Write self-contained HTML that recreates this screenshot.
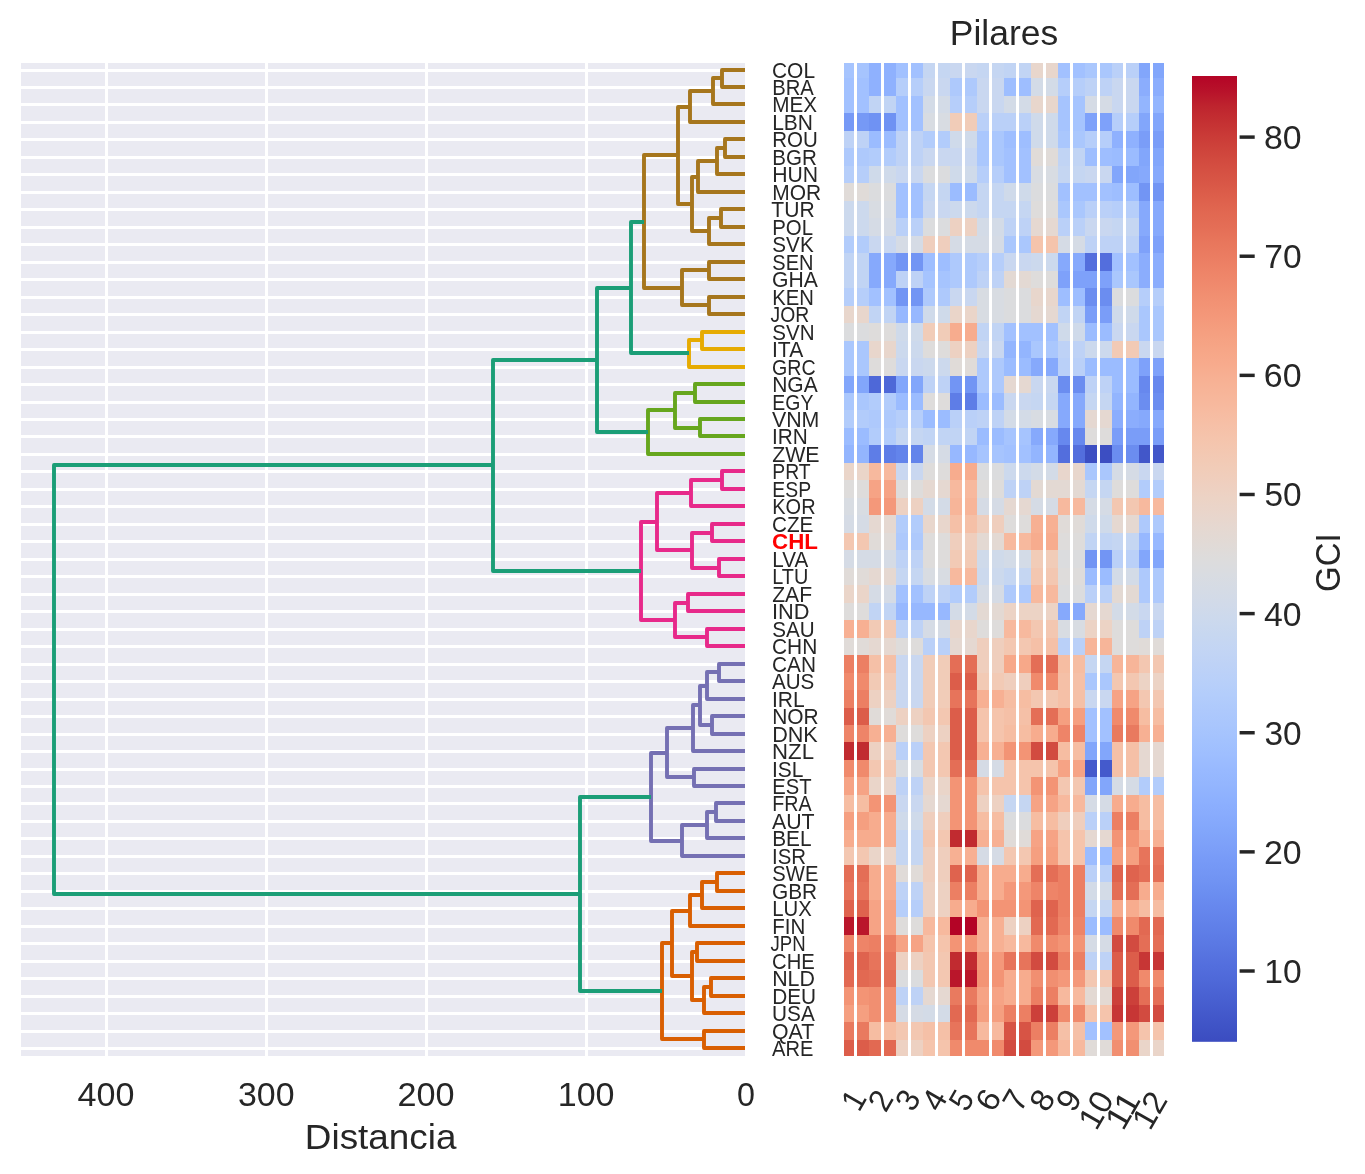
<!DOCTYPE html><html><head><meta charset="utf-8"><title>Dendrograma GCI</title>
<style>html,body{margin:0;padding:0;background:#fff}svg{display:block;will-change:transform;opacity:0.9999}text{font-family:"Liberation Sans",sans-serif;fill:#262626}</style></head><body>
<svg width="1365" height="1174" viewBox="0 0 1365 1174">
<rect width="1365" height="1174" fill="#fff"/>
<rect x="21.00" y="63.00" width="724.00" height="993.00" fill="#eaeaf2"/>
<clipPath id="dc"><rect x="21.00" y="63.00" width="724.00" height="993.00"/></clipPath>
<g clip-path="url(#dc)">
<path d="M21.00 70.50H745.00M21.00 87.50H745.00M21.00 104.50H745.00M21.00 122.50H745.00M21.00 139.50H745.00M21.00 157.50H745.00M21.00 174.50H745.00M21.00 192.50H745.00M21.00 209.50H745.00M21.00 227.50H745.00M21.00 244.50H745.00M21.00 262.50H745.00M21.00 279.50H745.00M21.00 297.50H745.00M21.00 314.50H745.00M21.00 332.50H745.00M21.00 349.50H745.00M21.00 367.50H745.00M21.00 384.50H745.00M21.00 402.50H745.00M21.00 419.50H745.00M21.00 436.50H745.00M21.00 454.50H745.00M21.00 471.50H745.00M21.00 489.50H745.00M21.00 506.50H745.00M21.00 524.50H745.00M21.00 541.50H745.00M21.00 559.50H745.00M21.00 576.50H745.00M21.00 594.50H745.00M21.00 611.50H745.00M21.00 629.50H745.00M21.00 646.50H745.00M21.00 664.50H745.00M21.00 681.50H745.00M21.00 699.50H745.00M21.00 716.50H745.00M21.00 734.50H745.00M21.00 751.50H745.00M21.00 769.50H745.00M21.00 786.50H745.00M21.00 803.50H745.00M21.00 821.50H745.00M21.00 838.50H745.00M21.00 856.50H745.00M21.00 873.50H745.00M21.00 891.50H745.00M21.00 908.50H745.00M21.00 926.50H745.00M21.00 943.50H745.00M21.00 961.50H745.00M21.00 978.50H745.00M21.00 996.50H745.00M21.00 1013.50H745.00M21.00 1031.50H745.00M21.00 1048.50H745.00M586.50 63.00V1056.00M426.50 63.00V1056.00M266.50 63.00V1056.00M106.50 63.00V1056.00" stroke="#fff" stroke-width="3.00" fill="none"/>
<path d="M746.40 70.00H722.00V87.00H746.40M722.00 78.00H713.00V104.00H746.40M713.00 91.00H690.00V122.00H746.40M746.40 139.00H725.00V157.00H746.40M725.00 148.00H717.00V174.00H746.40M717.00 161.00H698.00V192.00H746.40M746.40 209.00H721.00V227.00H746.40M721.00 218.00H709.00V244.00H746.40M698.00 177.00H692.00V231.00H709.00M690.00 107.00H678.00V204.00H692.00M746.40 262.00H709.00V279.00H746.40M746.40 297.00H709.00V314.00H746.40M709.00 270.00H682.00V305.00H709.00M678.00 155.00H644.00V288.00H682.00" stroke="#a6761d" stroke-width="3.90" fill="none" stroke-linejoin="round" stroke-linecap="butt"/>
<path d="M746.40 332.00H702.00V349.00H746.40M702.00 340.00H689.00V367.00H746.40" stroke="#e6ab02" stroke-width="3.90" fill="none" stroke-linejoin="round" stroke-linecap="butt"/>
<path d="M746.40 384.00H695.00V402.00H746.40M746.40 419.00H700.00V436.00H746.40M695.00 393.00H675.00V428.00H700.00M675.00 410.00H648.00V454.00H746.40" stroke="#66a61e" stroke-width="3.90" fill="none" stroke-linejoin="round" stroke-linecap="butt"/>
<path d="M746.40 471.00H722.00V489.00H746.40M722.00 480.00H691.00V506.00H746.40M746.40 524.00H712.00V541.00H746.40M746.40 559.00H719.00V576.00H746.40M712.00 533.00H692.00V568.00H719.00M691.00 493.00H657.00V550.00H692.00M746.40 594.00H688.00V611.00H746.40M746.40 629.00H707.00V646.00H746.40M688.00 603.00H675.00V637.00H707.00M657.00 522.00H641.00V620.00H675.00" stroke="#e7298a" stroke-width="3.90" fill="none" stroke-linejoin="round" stroke-linecap="butt"/>
<path d="M746.40 664.00H719.00V681.00H746.40M719.00 672.00H707.00V699.00H746.40M746.40 716.00H712.00V734.00H746.40M707.00 686.00H700.00V725.00H712.00M700.00 705.00H693.00V751.00H746.40M746.40 769.00H694.00V786.00H746.40M693.00 728.00H667.00V777.00H694.00M746.40 803.00H716.00V821.00H746.40M716.00 812.00H707.00V838.00H746.40M707.00 825.00H682.00V856.00H746.40M667.00 753.00H651.00V841.00H682.00" stroke="#7570b3" stroke-width="3.90" fill="none" stroke-linejoin="round" stroke-linecap="butt"/>
<path d="M746.40 873.00H717.00V891.00H746.40M717.00 882.00H702.00V908.00H746.40M702.00 895.00H690.00V926.00H746.40M746.40 943.00H697.00V961.00H746.40M746.40 978.00H711.00V996.00H746.40M711.00 987.00H704.00V1013.00H746.40M697.00 952.00H692.00V1000.00H704.00M690.00 911.00H672.00V976.00H692.00M746.40 1031.00H704.00V1048.00H746.40M672.00 943.00H662.00V1039.00H704.00" stroke="#d95f02" stroke-width="3.90" fill="none" stroke-linejoin="round" stroke-linecap="butt"/>
<path d="M644.00 222.00H631.00V353.00H689.00M631.00 288.00H597.00V432.00H648.00M597.00 360.00H493.00V571.00H641.00M651.00 797.00H580.00V991.00H662.00M493.00 465.00H54.00V894.00H580.00" stroke="#1b9e77" stroke-width="3.90" fill="none" stroke-linejoin="round" stroke-linecap="butt"/>
</g>
<text transform="translate(737.07 1106.30) scale(0.9977 1)" font-size="32.39" >0</text>
<text transform="translate(557.74 1106.30) scale(1.0511 1)" font-size="32.39" >100</text>
<text transform="translate(397.44 1106.30) scale(1.0568 1)" font-size="32.39" >200</text>
<text transform="translate(237.95 1106.30) scale(1.0471 1)" font-size="32.39" >300</text>
<text transform="translate(77.62 1106.30) scale(1.0534 1)" font-size="32.39" >400</text>
<text transform="translate(304.85 1148.60) scale(1.0434 1)" font-size="35.33" >Distancia</text>
<text transform="translate(949.74 44.80) scale(1.0044 1)" font-size="35.33" >Pilares</text>
<text transform="translate(772.00 77.80) scale(0.9482 1)" font-size="22.08" >COL</text>
<text transform="translate(772.26 94.80) scale(0.9171 1)" font-size="22.08" >BRA</text>
<text transform="translate(772.22 111.80) scale(0.9377 1)" font-size="22.08" >MEX</text>
<text transform="translate(772.20 129.80) scale(0.9513 1)" font-size="22.08" >LBN</text>
<text transform="translate(772.24 146.80) scale(0.9285 1)" font-size="22.08" >ROU</text>
<text transform="translate(772.24 164.80) scale(0.9307 1)" font-size="22.08" >BGR</text>
<text transform="translate(772.18 181.80) scale(0.9599 1)" font-size="22.08" >HUN</text>
<text transform="translate(772.20 199.80) scale(0.9498 1)" font-size="22.08" >MOR</text>
<text transform="translate(771.37 216.80) scale(0.9553 1)" font-size="22.08" >TUR</text>
<text transform="translate(772.25 234.80) scale(0.9234 1)" font-size="22.08" >POL</text>
<text transform="translate(772.32 251.80) scale(0.9361 1)" font-size="22.08" >SVK</text>
<text transform="translate(772.35 269.80) scale(0.9055 1)" font-size="22.08" >SEN</text>
<text transform="translate(771.99 286.80) scale(0.9579 1)" font-size="22.08" >GHA</text>
<text transform="translate(772.26 304.80) scale(0.9172 1)" font-size="22.08" >KEN</text>
<text transform="translate(770.52 321.80) scale(0.8764 1)" font-size="22.08" >JOR</text>
<text transform="translate(772.33 339.80) scale(0.9312 1)" font-size="22.08" >SVN</text>
<text transform="translate(771.98 356.80) scale(0.9553 1)" font-size="22.08" >ITA</text>
<text transform="translate(772.07 374.80) scale(0.8882 1)" font-size="22.08" >GRC</text>
<text transform="translate(772.20 391.80) scale(0.9513 1)" font-size="22.08" >NGA</text>
<text transform="translate(772.33 409.80) scale(0.8800 1)" font-size="22.08" >EGY</text>
<text transform="translate(771.95 426.80) scale(0.9677 1)" font-size="22.08" >VNM</text>
<text transform="translate(772.01 443.80) scale(0.9403 1)" font-size="22.08" >IRN</text>
<text transform="translate(772.14 461.80) scale(0.9654 1)" font-size="22.08" >ZWE</text>
<text transform="translate(772.33 478.80) scale(0.8767 1)" font-size="22.08" >PRT</text>
<text transform="translate(772.33 496.80) scale(0.8790 1)" font-size="22.08" >ESP</text>
<text transform="translate(772.28 513.80) scale(0.9052 1)" font-size="22.08" >KOR</text>
<text transform="translate(772.01 531.80) scale(0.9372 1)" font-size="22.08" >CZE</text>
<text transform="translate(772.05 548.80) scale(1.0123 1)" font-size="22.08" font-weight="bold" style="fill:#ff0000" >CHL</text>
<text transform="translate(772.23 566.80) scale(0.9363 1)" font-size="22.08" >LVA</text>
<text transform="translate(772.29 583.80) scale(0.8992 1)" font-size="22.08" >LTU</text>
<text transform="translate(772.15 601.80) scale(0.9577 1)" font-size="22.08" >ZAF</text>
<text transform="translate(771.92 618.80) scale(0.9866 1)" font-size="22.08" >IND</text>
<text transform="translate(772.33 636.80) scale(0.9349 1)" font-size="22.08" >SAU</text>
<text transform="translate(772.00 653.80) scale(0.9480 1)" font-size="22.08" >CHN</text>
<text transform="translate(772.01 671.80) scale(0.9422 1)" font-size="22.08" >CAN</text>
<text transform="translate(772.00 688.80) scale(0.9328 1)" font-size="22.08" >AUS</text>
<text transform="translate(771.98 706.80) scale(0.9533 1)" font-size="22.08" >IRL</text>
<text transform="translate(772.20 723.80) scale(0.9479 1)" font-size="22.08" >NOR</text>
<text transform="translate(772.15 741.80) scale(0.9796 1)" font-size="22.08" >DNK</text>
<text transform="translate(772.10 758.80) scale(1.0046 1)" font-size="22.08" >NZL</text>
<text transform="translate(771.99 776.80) scale(0.9503 1)" font-size="22.08" >ISL</text>
<text transform="translate(772.26 793.80) scale(0.9152 1)" font-size="22.08" >EST</text>
<text transform="translate(772.31 810.80) scale(0.8904 1)" font-size="22.08" >FRA</text>
<text transform="translate(772.00 828.80) scale(0.9661 1)" font-size="22.08" >AUT</text>
<text transform="translate(772.21 845.80) scale(0.9421 1)" font-size="22.08" >BEL</text>
<text transform="translate(772.04 863.80) scale(0.9249 1)" font-size="22.08" >ISR</text>
<text transform="translate(772.34 880.80) scale(0.9154 1)" font-size="22.08" >SWE</text>
<text transform="translate(772.00 898.80) scale(0.9434 1)" font-size="22.08" >GBR</text>
<text transform="translate(772.25 915.80) scale(0.9203 1)" font-size="22.08" >LUX</text>
<text transform="translate(772.24 933.80) scale(0.9287 1)" font-size="22.08" >FIN</text>
<text transform="translate(770.53 950.80) scale(0.8421 1)" font-size="22.08" >JPN</text>
<text transform="translate(772.03 968.80) scale(0.9165 1)" font-size="22.08" >CHE</text>
<text transform="translate(772.17 985.80) scale(0.9674 1)" font-size="22.08" >NLD</text>
<text transform="translate(772.21 1003.80) scale(0.9422 1)" font-size="22.08" >DEU</text>
<text transform="translate(772.11 1020.80) scale(0.9410 1)" font-size="22.08" >USA</text>
<text transform="translate(772.03 1038.80) scale(0.9644 1)" font-size="22.08" >QAT</text>
<text transform="translate(772.01 1055.80) scale(0.9094 1)" font-size="22.08" >ARE</text>
<clipPath id="hc"><rect x="844.00" y="63.00" width="320.00" height="993.00"/></clipPath>
<g clip-path="url(#hc)"><g shape-rendering="crispEdges">
<rect x="842.00" y="61.00" width="27.00" height="17.00" fill="#a6c4fe"/>
<rect x="869.00" y="61.00" width="27.00" height="17.00" fill="#8fb1fe"/>
<rect x="896.00" y="61.00" width="27.00" height="17.00" fill="#a2c1ff"/>
<rect x="923.00" y="61.00" width="27.00" height="17.00" fill="#c5d6f2"/>
<rect x="950.00" y="61.00" width="27.00" height="17.00" fill="#c9d7f0"/>
<rect x="977.00" y="61.00" width="27.00" height="17.00" fill="#c5d6f2"/>
<rect x="1004.00" y="61.00" width="27.00" height="17.00" fill="#c1d4f4"/>
<rect x="1031.00" y="61.00" width="27.00" height="17.00" fill="#e8d6cc"/>
<rect x="1058.00" y="61.00" width="27.00" height="17.00" fill="#a2c1ff"/>
<rect x="1085.00" y="61.00" width="27.00" height="17.00" fill="#aac7fd"/>
<rect x="1112.00" y="61.00" width="27.00" height="17.00" fill="#bad0f8"/>
<rect x="1139.00" y="61.00" width="27.00" height="17.00" fill="#82a6fb"/>
<rect x="842.00" y="78.00" width="27.00" height="18.00" fill="#a2c1ff"/>
<rect x="869.00" y="78.00" width="27.00" height="18.00" fill="#8fb1fe"/>
<rect x="896.00" y="78.00" width="27.00" height="18.00" fill="#b6cefa"/>
<rect x="923.00" y="78.00" width="27.00" height="18.00" fill="#c9d7f0"/>
<rect x="950.00" y="78.00" width="27.00" height="18.00" fill="#aec9fc"/>
<rect x="977.00" y="78.00" width="27.00" height="18.00" fill="#c9d7f0"/>
<rect x="1004.00" y="78.00" width="27.00" height="18.00" fill="#9ebeff"/>
<rect x="1031.00" y="78.00" width="27.00" height="18.00" fill="#d3dbe7"/>
<rect x="1058.00" y="78.00" width="27.00" height="18.00" fill="#b6cefa"/>
<rect x="1085.00" y="78.00" width="27.00" height="18.00" fill="#bed2f6"/>
<rect x="1112.00" y="78.00" width="27.00" height="18.00" fill="#c9d7f0"/>
<rect x="1139.00" y="78.00" width="27.00" height="18.00" fill="#8badfd"/>
<rect x="842.00" y="96.00" width="27.00" height="17.00" fill="#a2c1ff"/>
<rect x="869.00" y="96.00" width="27.00" height="17.00" fill="#c1d4f4"/>
<rect x="896.00" y="96.00" width="27.00" height="17.00" fill="#a2c1ff"/>
<rect x="923.00" y="96.00" width="27.00" height="17.00" fill="#d3dbe7"/>
<rect x="950.00" y="96.00" width="27.00" height="17.00" fill="#b6cefa"/>
<rect x="977.00" y="96.00" width="27.00" height="17.00" fill="#c9d7f0"/>
<rect x="1004.00" y="96.00" width="27.00" height="17.00" fill="#d3dbe7"/>
<rect x="1031.00" y="96.00" width="27.00" height="17.00" fill="#e8d6cc"/>
<rect x="1058.00" y="96.00" width="27.00" height="17.00" fill="#a6c4fe"/>
<rect x="1085.00" y="96.00" width="27.00" height="17.00" fill="#d5dbe5"/>
<rect x="1112.00" y="96.00" width="27.00" height="17.00" fill="#c9d7f0"/>
<rect x="1139.00" y="96.00" width="27.00" height="17.00" fill="#93b5fe"/>
<rect x="842.00" y="113.00" width="27.00" height="18.00" fill="#7699f6"/>
<rect x="869.00" y="113.00" width="27.00" height="18.00" fill="#6f92f3"/>
<rect x="896.00" y="113.00" width="27.00" height="18.00" fill="#a2c1ff"/>
<rect x="923.00" y="113.00" width="27.00" height="18.00" fill="#d8dce2"/>
<rect x="950.00" y="113.00" width="27.00" height="18.00" fill="#f1ccb8"/>
<rect x="977.00" y="113.00" width="27.00" height="18.00" fill="#bad0f8"/>
<rect x="1004.00" y="113.00" width="27.00" height="18.00" fill="#bad0f8"/>
<rect x="1031.00" y="113.00" width="27.00" height="18.00" fill="#cfdaea"/>
<rect x="1058.00" y="113.00" width="27.00" height="18.00" fill="#a6c4fe"/>
<rect x="1085.00" y="113.00" width="27.00" height="18.00" fill="#7ea1fa"/>
<rect x="1112.00" y="113.00" width="27.00" height="18.00" fill="#b6cefa"/>
<rect x="1139.00" y="113.00" width="27.00" height="18.00" fill="#82a6fb"/>
<rect x="842.00" y="131.00" width="27.00" height="17.00" fill="#bed2f6"/>
<rect x="869.00" y="131.00" width="27.00" height="17.00" fill="#9bbcff"/>
<rect x="896.00" y="131.00" width="27.00" height="17.00" fill="#bed2f6"/>
<rect x="923.00" y="131.00" width="27.00" height="17.00" fill="#b2ccfb"/>
<rect x="950.00" y="131.00" width="27.00" height="17.00" fill="#cfdaea"/>
<rect x="977.00" y="131.00" width="27.00" height="17.00" fill="#aac7fd"/>
<rect x="1004.00" y="131.00" width="27.00" height="17.00" fill="#9ebeff"/>
<rect x="1031.00" y="131.00" width="27.00" height="17.00" fill="#cfdaea"/>
<rect x="1058.00" y="131.00" width="27.00" height="17.00" fill="#aac7fd"/>
<rect x="1085.00" y="131.00" width="27.00" height="17.00" fill="#b6cefa"/>
<rect x="1112.00" y="131.00" width="27.00" height="17.00" fill="#8fb1fe"/>
<rect x="1139.00" y="131.00" width="27.00" height="17.00" fill="#7a9df8"/>
<rect x="842.00" y="148.00" width="27.00" height="18.00" fill="#aec9fc"/>
<rect x="869.00" y="148.00" width="27.00" height="18.00" fill="#b2ccfb"/>
<rect x="896.00" y="148.00" width="27.00" height="18.00" fill="#bed2f6"/>
<rect x="923.00" y="148.00" width="27.00" height="18.00" fill="#c9d7f0"/>
<rect x="950.00" y="148.00" width="27.00" height="18.00" fill="#c9d7f0"/>
<rect x="977.00" y="148.00" width="27.00" height="18.00" fill="#aac7fd"/>
<rect x="1004.00" y="148.00" width="27.00" height="18.00" fill="#a2c1ff"/>
<rect x="1031.00" y="148.00" width="27.00" height="18.00" fill="#e0dbd8"/>
<rect x="1058.00" y="148.00" width="27.00" height="18.00" fill="#c1d4f4"/>
<rect x="1085.00" y="148.00" width="27.00" height="18.00" fill="#9ebeff"/>
<rect x="1112.00" y="148.00" width="27.00" height="18.00" fill="#9bbcff"/>
<rect x="1139.00" y="148.00" width="27.00" height="18.00" fill="#82a6fb"/>
<rect x="842.00" y="166.00" width="27.00" height="17.00" fill="#b6cefa"/>
<rect x="869.00" y="166.00" width="27.00" height="17.00" fill="#cfdaea"/>
<rect x="896.00" y="166.00" width="27.00" height="17.00" fill="#c9d7f0"/>
<rect x="923.00" y="166.00" width="27.00" height="17.00" fill="#dbdcde"/>
<rect x="950.00" y="166.00" width="27.00" height="17.00" fill="#cfdaea"/>
<rect x="977.00" y="166.00" width="27.00" height="17.00" fill="#b6cefa"/>
<rect x="1004.00" y="166.00" width="27.00" height="17.00" fill="#a2c1ff"/>
<rect x="1031.00" y="166.00" width="27.00" height="17.00" fill="#d8dce2"/>
<rect x="1058.00" y="166.00" width="27.00" height="17.00" fill="#c5d6f2"/>
<rect x="1085.00" y="166.00" width="27.00" height="17.00" fill="#c9d7f0"/>
<rect x="1112.00" y="166.00" width="27.00" height="17.00" fill="#82a6fb"/>
<rect x="1139.00" y="166.00" width="27.00" height="17.00" fill="#86a9fc"/>
<rect x="842.00" y="183.00" width="27.00" height="18.00" fill="#e0dbd8"/>
<rect x="869.00" y="183.00" width="27.00" height="18.00" fill="#dbdcde"/>
<rect x="896.00" y="183.00" width="27.00" height="18.00" fill="#a2c1ff"/>
<rect x="923.00" y="183.00" width="27.00" height="18.00" fill="#c5d6f2"/>
<rect x="950.00" y="183.00" width="27.00" height="18.00" fill="#9bbcff"/>
<rect x="977.00" y="183.00" width="27.00" height="18.00" fill="#c5d6f2"/>
<rect x="1004.00" y="183.00" width="27.00" height="18.00" fill="#cfdaea"/>
<rect x="1031.00" y="183.00" width="27.00" height="18.00" fill="#dbdcde"/>
<rect x="1058.00" y="183.00" width="27.00" height="18.00" fill="#a2c1ff"/>
<rect x="1085.00" y="183.00" width="27.00" height="18.00" fill="#a2c1ff"/>
<rect x="1112.00" y="183.00" width="27.00" height="18.00" fill="#9ebeff"/>
<rect x="1139.00" y="183.00" width="27.00" height="18.00" fill="#7295f4"/>
<rect x="842.00" y="201.00" width="27.00" height="17.00" fill="#ccd9ed"/>
<rect x="869.00" y="201.00" width="27.00" height="17.00" fill="#d8dce2"/>
<rect x="896.00" y="201.00" width="27.00" height="17.00" fill="#a2c1ff"/>
<rect x="923.00" y="201.00" width="27.00" height="17.00" fill="#c9d7f0"/>
<rect x="950.00" y="201.00" width="27.00" height="17.00" fill="#ccd9ed"/>
<rect x="977.00" y="201.00" width="27.00" height="17.00" fill="#c5d6f2"/>
<rect x="1004.00" y="201.00" width="27.00" height="17.00" fill="#c5d6f2"/>
<rect x="1031.00" y="201.00" width="27.00" height="17.00" fill="#dedcdb"/>
<rect x="1058.00" y="201.00" width="27.00" height="17.00" fill="#aac7fd"/>
<rect x="1085.00" y="201.00" width="27.00" height="17.00" fill="#bad0f8"/>
<rect x="1112.00" y="201.00" width="27.00" height="17.00" fill="#b6cefa"/>
<rect x="1139.00" y="201.00" width="27.00" height="17.00" fill="#86a9fc"/>
<rect x="842.00" y="218.00" width="27.00" height="18.00" fill="#ccd9ed"/>
<rect x="869.00" y="218.00" width="27.00" height="18.00" fill="#d5dbe5"/>
<rect x="896.00" y="218.00" width="27.00" height="18.00" fill="#bad0f8"/>
<rect x="923.00" y="218.00" width="27.00" height="18.00" fill="#dbdcde"/>
<rect x="950.00" y="218.00" width="27.00" height="18.00" fill="#edd1c2"/>
<rect x="977.00" y="218.00" width="27.00" height="18.00" fill="#d3dbe7"/>
<rect x="1004.00" y="218.00" width="27.00" height="18.00" fill="#bed2f6"/>
<rect x="1031.00" y="218.00" width="27.00" height="18.00" fill="#e5d8d1"/>
<rect x="1058.00" y="218.00" width="27.00" height="18.00" fill="#bad0f8"/>
<rect x="1085.00" y="218.00" width="27.00" height="18.00" fill="#c9d7f0"/>
<rect x="1112.00" y="218.00" width="27.00" height="18.00" fill="#c5d6f2"/>
<rect x="1139.00" y="218.00" width="27.00" height="18.00" fill="#86a9fc"/>
<rect x="842.00" y="236.00" width="27.00" height="17.00" fill="#b2ccfb"/>
<rect x="869.00" y="236.00" width="27.00" height="17.00" fill="#c9d7f0"/>
<rect x="896.00" y="236.00" width="27.00" height="17.00" fill="#d5dbe5"/>
<rect x="923.00" y="236.00" width="27.00" height="17.00" fill="#efcebd"/>
<rect x="950.00" y="236.00" width="27.00" height="17.00" fill="#d5dbe5"/>
<rect x="977.00" y="236.00" width="27.00" height="17.00" fill="#d5dbe5"/>
<rect x="1004.00" y="236.00" width="27.00" height="17.00" fill="#aac7fd"/>
<rect x="1031.00" y="236.00" width="27.00" height="17.00" fill="#f5c4ac"/>
<rect x="1058.00" y="236.00" width="27.00" height="17.00" fill="#d5dbe5"/>
<rect x="1085.00" y="236.00" width="27.00" height="17.00" fill="#bed2f6"/>
<rect x="1112.00" y="236.00" width="27.00" height="17.00" fill="#bed2f6"/>
<rect x="1139.00" y="236.00" width="27.00" height="17.00" fill="#7ea1fa"/>
<rect x="842.00" y="253.00" width="27.00" height="18.00" fill="#c1d4f4"/>
<rect x="869.00" y="253.00" width="27.00" height="18.00" fill="#86a9fc"/>
<rect x="896.00" y="253.00" width="27.00" height="18.00" fill="#7295f4"/>
<rect x="923.00" y="253.00" width="27.00" height="18.00" fill="#9ebeff"/>
<rect x="950.00" y="253.00" width="27.00" height="18.00" fill="#aec9fc"/>
<rect x="977.00" y="253.00" width="27.00" height="18.00" fill="#b6cefa"/>
<rect x="1004.00" y="253.00" width="27.00" height="18.00" fill="#c9d7f0"/>
<rect x="1031.00" y="253.00" width="27.00" height="18.00" fill="#ccd9ed"/>
<rect x="1058.00" y="253.00" width="27.00" height="18.00" fill="#86a9fc"/>
<rect x="1085.00" y="253.00" width="27.00" height="18.00" fill="#536edd"/>
<rect x="1112.00" y="253.00" width="27.00" height="18.00" fill="#a2c1ff"/>
<rect x="1139.00" y="253.00" width="27.00" height="18.00" fill="#8badfd"/>
<rect x="842.00" y="271.00" width="27.00" height="17.00" fill="#c1d4f4"/>
<rect x="869.00" y="271.00" width="27.00" height="17.00" fill="#86a9fc"/>
<rect x="896.00" y="271.00" width="27.00" height="17.00" fill="#bed2f6"/>
<rect x="923.00" y="271.00" width="27.00" height="17.00" fill="#a6c4fe"/>
<rect x="950.00" y="271.00" width="27.00" height="17.00" fill="#aec9fc"/>
<rect x="977.00" y="271.00" width="27.00" height="17.00" fill="#bed2f6"/>
<rect x="1004.00" y="271.00" width="27.00" height="17.00" fill="#e3d9d3"/>
<rect x="1031.00" y="271.00" width="27.00" height="17.00" fill="#dedcdb"/>
<rect x="1058.00" y="271.00" width="27.00" height="17.00" fill="#7ea1fa"/>
<rect x="1085.00" y="271.00" width="27.00" height="17.00" fill="#7ea1fa"/>
<rect x="1112.00" y="271.00" width="27.00" height="17.00" fill="#aac7fd"/>
<rect x="1139.00" y="271.00" width="27.00" height="17.00" fill="#8badfd"/>
<rect x="842.00" y="288.00" width="27.00" height="18.00" fill="#b6cefa"/>
<rect x="869.00" y="288.00" width="27.00" height="18.00" fill="#a2c1ff"/>
<rect x="896.00" y="288.00" width="27.00" height="18.00" fill="#7295f4"/>
<rect x="923.00" y="288.00" width="27.00" height="18.00" fill="#aec9fc"/>
<rect x="950.00" y="288.00" width="27.00" height="18.00" fill="#c9d7f0"/>
<rect x="977.00" y="288.00" width="27.00" height="18.00" fill="#d8dce2"/>
<rect x="1004.00" y="288.00" width="27.00" height="18.00" fill="#dbdcde"/>
<rect x="1031.00" y="288.00" width="27.00" height="18.00" fill="#e8d6cc"/>
<rect x="1058.00" y="288.00" width="27.00" height="18.00" fill="#9ebeff"/>
<rect x="1085.00" y="288.00" width="27.00" height="18.00" fill="#6b8df0"/>
<rect x="1112.00" y="288.00" width="27.00" height="18.00" fill="#dbdcde"/>
<rect x="1139.00" y="288.00" width="27.00" height="18.00" fill="#b6cefa"/>
<rect x="842.00" y="306.00" width="27.00" height="17.00" fill="#e8d6cc"/>
<rect x="869.00" y="306.00" width="27.00" height="17.00" fill="#c1d4f4"/>
<rect x="896.00" y="306.00" width="27.00" height="17.00" fill="#97b8ff"/>
<rect x="923.00" y="306.00" width="27.00" height="17.00" fill="#cfdaea"/>
<rect x="950.00" y="306.00" width="27.00" height="17.00" fill="#ead5c9"/>
<rect x="977.00" y="306.00" width="27.00" height="17.00" fill="#d8dce2"/>
<rect x="1004.00" y="306.00" width="27.00" height="17.00" fill="#dbdcde"/>
<rect x="1031.00" y="306.00" width="27.00" height="17.00" fill="#e5d8d1"/>
<rect x="1058.00" y="306.00" width="27.00" height="17.00" fill="#c1d4f4"/>
<rect x="1085.00" y="306.00" width="27.00" height="17.00" fill="#7a9df8"/>
<rect x="1112.00" y="306.00" width="27.00" height="17.00" fill="#cfdaea"/>
<rect x="1139.00" y="306.00" width="27.00" height="17.00" fill="#aac7fd"/>
<rect x="842.00" y="323.00" width="27.00" height="18.00" fill="#dbdcde"/>
<rect x="869.00" y="323.00" width="27.00" height="18.00" fill="#dedcdb"/>
<rect x="896.00" y="323.00" width="27.00" height="18.00" fill="#cfdaea"/>
<rect x="923.00" y="323.00" width="27.00" height="18.00" fill="#f1ccb8"/>
<rect x="950.00" y="323.00" width="27.00" height="18.00" fill="#f7ac8e"/>
<rect x="977.00" y="323.00" width="27.00" height="18.00" fill="#c1d4f4"/>
<rect x="1004.00" y="323.00" width="27.00" height="18.00" fill="#a2c1ff"/>
<rect x="1031.00" y="323.00" width="27.00" height="18.00" fill="#a2c1ff"/>
<rect x="1058.00" y="323.00" width="27.00" height="18.00" fill="#cfdaea"/>
<rect x="1085.00" y="323.00" width="27.00" height="18.00" fill="#9bbcff"/>
<rect x="1112.00" y="323.00" width="27.00" height="18.00" fill="#c9d7f0"/>
<rect x="1139.00" y="323.00" width="27.00" height="18.00" fill="#aac7fd"/>
<rect x="842.00" y="341.00" width="27.00" height="17.00" fill="#aac7fd"/>
<rect x="869.00" y="341.00" width="27.00" height="17.00" fill="#e8d6cc"/>
<rect x="896.00" y="341.00" width="27.00" height="17.00" fill="#ccd9ed"/>
<rect x="923.00" y="341.00" width="27.00" height="17.00" fill="#dedcdb"/>
<rect x="950.00" y="341.00" width="27.00" height="17.00" fill="#edd1c2"/>
<rect x="977.00" y="341.00" width="27.00" height="17.00" fill="#c9d7f0"/>
<rect x="1004.00" y="341.00" width="27.00" height="17.00" fill="#93b5fe"/>
<rect x="1031.00" y="341.00" width="27.00" height="17.00" fill="#aac7fd"/>
<rect x="1058.00" y="341.00" width="27.00" height="17.00" fill="#bed2f6"/>
<rect x="1085.00" y="341.00" width="27.00" height="17.00" fill="#ccd9ed"/>
<rect x="1112.00" y="341.00" width="27.00" height="17.00" fill="#f2cab5"/>
<rect x="1139.00" y="341.00" width="27.00" height="17.00" fill="#c9d7f0"/>
<rect x="842.00" y="358.00" width="27.00" height="18.00" fill="#aac7fd"/>
<rect x="869.00" y="358.00" width="27.00" height="18.00" fill="#dedcdb"/>
<rect x="896.00" y="358.00" width="27.00" height="18.00" fill="#c9d7f0"/>
<rect x="923.00" y="358.00" width="27.00" height="18.00" fill="#ccd9ed"/>
<rect x="950.00" y="358.00" width="27.00" height="18.00" fill="#e0dbd8"/>
<rect x="977.00" y="358.00" width="27.00" height="18.00" fill="#aec9fc"/>
<rect x="1004.00" y="358.00" width="27.00" height="18.00" fill="#9bbcff"/>
<rect x="1031.00" y="358.00" width="27.00" height="18.00" fill="#86a9fc"/>
<rect x="1058.00" y="358.00" width="27.00" height="18.00" fill="#bad0f8"/>
<rect x="1085.00" y="358.00" width="27.00" height="18.00" fill="#9bbcff"/>
<rect x="1112.00" y="358.00" width="27.00" height="18.00" fill="#9bbcff"/>
<rect x="1139.00" y="358.00" width="27.00" height="18.00" fill="#7ea1fa"/>
<rect x="842.00" y="376.00" width="27.00" height="17.00" fill="#82a6fb"/>
<rect x="869.00" y="376.00" width="27.00" height="17.00" fill="#4e68d8"/>
<rect x="896.00" y="376.00" width="27.00" height="17.00" fill="#82a6fb"/>
<rect x="923.00" y="376.00" width="27.00" height="17.00" fill="#bed2f6"/>
<rect x="950.00" y="376.00" width="27.00" height="17.00" fill="#7295f4"/>
<rect x="977.00" y="376.00" width="27.00" height="17.00" fill="#aec9fc"/>
<rect x="1004.00" y="376.00" width="27.00" height="17.00" fill="#e5d8d1"/>
<rect x="1031.00" y="376.00" width="27.00" height="17.00" fill="#c9d7f0"/>
<rect x="1058.00" y="376.00" width="27.00" height="17.00" fill="#6b8df0"/>
<rect x="1085.00" y="376.00" width="27.00" height="17.00" fill="#bed2f6"/>
<rect x="1112.00" y="376.00" width="27.00" height="17.00" fill="#9bbcff"/>
<rect x="1139.00" y="376.00" width="27.00" height="17.00" fill="#6788ee"/>
<rect x="842.00" y="393.00" width="27.00" height="17.00" fill="#aac7fd"/>
<rect x="869.00" y="393.00" width="27.00" height="17.00" fill="#b2ccfb"/>
<rect x="896.00" y="393.00" width="27.00" height="17.00" fill="#9bbcff"/>
<rect x="923.00" y="393.00" width="27.00" height="17.00" fill="#dedcdb"/>
<rect x="950.00" y="393.00" width="27.00" height="17.00" fill="#5e7de7"/>
<rect x="977.00" y="393.00" width="27.00" height="17.00" fill="#9bbcff"/>
<rect x="1004.00" y="393.00" width="27.00" height="17.00" fill="#c9d7f0"/>
<rect x="1031.00" y="393.00" width="27.00" height="17.00" fill="#c5d6f2"/>
<rect x="1058.00" y="393.00" width="27.00" height="17.00" fill="#86a9fc"/>
<rect x="1085.00" y="393.00" width="27.00" height="17.00" fill="#c5d6f2"/>
<rect x="1112.00" y="393.00" width="27.00" height="17.00" fill="#93b5fe"/>
<rect x="1139.00" y="393.00" width="27.00" height="17.00" fill="#6b8df0"/>
<rect x="842.00" y="410.00" width="27.00" height="18.00" fill="#b2ccfb"/>
<rect x="869.00" y="410.00" width="27.00" height="18.00" fill="#aec9fc"/>
<rect x="896.00" y="410.00" width="27.00" height="18.00" fill="#b6cefa"/>
<rect x="923.00" y="410.00" width="27.00" height="18.00" fill="#9bbcff"/>
<rect x="950.00" y="410.00" width="27.00" height="18.00" fill="#bad0f8"/>
<rect x="977.00" y="410.00" width="27.00" height="18.00" fill="#bed2f6"/>
<rect x="1004.00" y="410.00" width="27.00" height="18.00" fill="#d3dbe7"/>
<rect x="1031.00" y="410.00" width="27.00" height="18.00" fill="#d8dce2"/>
<rect x="1058.00" y="410.00" width="27.00" height="18.00" fill="#86a9fc"/>
<rect x="1085.00" y="410.00" width="27.00" height="18.00" fill="#e5d8d1"/>
<rect x="1112.00" y="410.00" width="27.00" height="18.00" fill="#8badfd"/>
<rect x="1139.00" y="410.00" width="27.00" height="18.00" fill="#86a9fc"/>
<rect x="842.00" y="428.00" width="27.00" height="17.00" fill="#9bbcff"/>
<rect x="869.00" y="428.00" width="27.00" height="17.00" fill="#b2ccfb"/>
<rect x="896.00" y="428.00" width="27.00" height="17.00" fill="#c5d6f2"/>
<rect x="923.00" y="428.00" width="27.00" height="17.00" fill="#c1d4f4"/>
<rect x="950.00" y="428.00" width="27.00" height="17.00" fill="#c1d4f4"/>
<rect x="977.00" y="428.00" width="27.00" height="17.00" fill="#9bbcff"/>
<rect x="1004.00" y="428.00" width="27.00" height="17.00" fill="#a6c4fe"/>
<rect x="1031.00" y="428.00" width="27.00" height="17.00" fill="#86a9fc"/>
<rect x="1058.00" y="428.00" width="27.00" height="17.00" fill="#6788ee"/>
<rect x="1085.00" y="428.00" width="27.00" height="17.00" fill="#dedcdb"/>
<rect x="1112.00" y="428.00" width="27.00" height="17.00" fill="#7a9df8"/>
<rect x="1139.00" y="428.00" width="27.00" height="17.00" fill="#7a9df8"/>
<rect x="842.00" y="445.00" width="27.00" height="18.00" fill="#93b5fe"/>
<rect x="869.00" y="445.00" width="27.00" height="18.00" fill="#5e7de7"/>
<rect x="896.00" y="445.00" width="27.00" height="18.00" fill="#6384eb"/>
<rect x="923.00" y="445.00" width="27.00" height="18.00" fill="#d5dbe5"/>
<rect x="950.00" y="445.00" width="27.00" height="18.00" fill="#97b8ff"/>
<rect x="977.00" y="445.00" width="27.00" height="18.00" fill="#a6c4fe"/>
<rect x="1004.00" y="445.00" width="27.00" height="18.00" fill="#a2c1ff"/>
<rect x="1031.00" y="445.00" width="27.00" height="18.00" fill="#93b5fe"/>
<rect x="1058.00" y="445.00" width="27.00" height="18.00" fill="#536edd"/>
<rect x="1085.00" y="445.00" width="27.00" height="18.00" fill="#3c4ec2"/>
<rect x="1112.00" y="445.00" width="27.00" height="18.00" fill="#6b8df0"/>
<rect x="1139.00" y="445.00" width="27.00" height="18.00" fill="#4257c9"/>
<rect x="842.00" y="463.00" width="27.00" height="17.00" fill="#ead5c9"/>
<rect x="869.00" y="463.00" width="27.00" height="17.00" fill="#f7b99e"/>
<rect x="896.00" y="463.00" width="27.00" height="17.00" fill="#c9d7f0"/>
<rect x="923.00" y="463.00" width="27.00" height="17.00" fill="#dedcdb"/>
<rect x="950.00" y="463.00" width="27.00" height="17.00" fill="#f7ac8e"/>
<rect x="977.00" y="463.00" width="27.00" height="17.00" fill="#dbdcde"/>
<rect x="1004.00" y="463.00" width="27.00" height="17.00" fill="#ccd9ed"/>
<rect x="1031.00" y="463.00" width="27.00" height="17.00" fill="#d3dbe7"/>
<rect x="1058.00" y="463.00" width="27.00" height="17.00" fill="#e8d6cc"/>
<rect x="1085.00" y="463.00" width="27.00" height="17.00" fill="#aac7fd"/>
<rect x="1112.00" y="463.00" width="27.00" height="17.00" fill="#d5dbe5"/>
<rect x="1139.00" y="463.00" width="27.00" height="17.00" fill="#c9d7f0"/>
<rect x="842.00" y="480.00" width="27.00" height="18.00" fill="#dedcdb"/>
<rect x="869.00" y="480.00" width="27.00" height="18.00" fill="#f6a385"/>
<rect x="896.00" y="480.00" width="27.00" height="18.00" fill="#dedcdb"/>
<rect x="923.00" y="480.00" width="27.00" height="18.00" fill="#e5d8d1"/>
<rect x="950.00" y="480.00" width="27.00" height="18.00" fill="#f7b99e"/>
<rect x="977.00" y="480.00" width="27.00" height="18.00" fill="#dedcdb"/>
<rect x="1004.00" y="480.00" width="27.00" height="18.00" fill="#bed2f6"/>
<rect x="1031.00" y="480.00" width="27.00" height="18.00" fill="#e3d9d3"/>
<rect x="1058.00" y="480.00" width="27.00" height="18.00" fill="#e3d9d3"/>
<rect x="1085.00" y="480.00" width="27.00" height="18.00" fill="#c5d6f2"/>
<rect x="1112.00" y="480.00" width="27.00" height="18.00" fill="#dedcdb"/>
<rect x="1139.00" y="480.00" width="27.00" height="18.00" fill="#b2ccfb"/>
<rect x="842.00" y="498.00" width="27.00" height="17.00" fill="#d8dce2"/>
<rect x="869.00" y="498.00" width="27.00" height="17.00" fill="#f4987a"/>
<rect x="896.00" y="498.00" width="27.00" height="17.00" fill="#edd1c2"/>
<rect x="923.00" y="498.00" width="27.00" height="17.00" fill="#d3dbe7"/>
<rect x="950.00" y="498.00" width="27.00" height="17.00" fill="#f7b599"/>
<rect x="977.00" y="498.00" width="27.00" height="17.00" fill="#d5dbe5"/>
<rect x="1004.00" y="498.00" width="27.00" height="17.00" fill="#e5d8d1"/>
<rect x="1031.00" y="498.00" width="27.00" height="17.00" fill="#d5dbe5"/>
<rect x="1058.00" y="498.00" width="27.00" height="17.00" fill="#f7b99e"/>
<rect x="1085.00" y="498.00" width="27.00" height="17.00" fill="#d5dbe5"/>
<rect x="1112.00" y="498.00" width="27.00" height="17.00" fill="#f3c7b1"/>
<rect x="1139.00" y="498.00" width="27.00" height="17.00" fill="#f7b99e"/>
<rect x="842.00" y="515.00" width="27.00" height="18.00" fill="#d5dbe5"/>
<rect x="869.00" y="515.00" width="27.00" height="18.00" fill="#e5d8d1"/>
<rect x="896.00" y="515.00" width="27.00" height="18.00" fill="#b2ccfb"/>
<rect x="923.00" y="515.00" width="27.00" height="18.00" fill="#e8d6cc"/>
<rect x="950.00" y="515.00" width="27.00" height="18.00" fill="#f5c0a7"/>
<rect x="977.00" y="515.00" width="27.00" height="18.00" fill="#efcebd"/>
<rect x="1004.00" y="515.00" width="27.00" height="18.00" fill="#dedcdb"/>
<rect x="1031.00" y="515.00" width="27.00" height="18.00" fill="#f7b093"/>
<rect x="1058.00" y="515.00" width="27.00" height="18.00" fill="#e0dbd8"/>
<rect x="1085.00" y="515.00" width="27.00" height="18.00" fill="#cfdaea"/>
<rect x="1112.00" y="515.00" width="27.00" height="18.00" fill="#e5d8d1"/>
<rect x="1139.00" y="515.00" width="27.00" height="18.00" fill="#aec9fc"/>
<rect x="842.00" y="533.00" width="27.00" height="17.00" fill="#f3c7b1"/>
<rect x="869.00" y="533.00" width="27.00" height="17.00" fill="#e0dbd8"/>
<rect x="896.00" y="533.00" width="27.00" height="17.00" fill="#aec9fc"/>
<rect x="923.00" y="533.00" width="27.00" height="17.00" fill="#dedcdb"/>
<rect x="950.00" y="533.00" width="27.00" height="17.00" fill="#efcebd"/>
<rect x="977.00" y="533.00" width="27.00" height="17.00" fill="#e3d9d3"/>
<rect x="1004.00" y="533.00" width="27.00" height="17.00" fill="#f7b99e"/>
<rect x="1031.00" y="533.00" width="27.00" height="17.00" fill="#f7ac8e"/>
<rect x="1058.00" y="533.00" width="27.00" height="17.00" fill="#dedcdb"/>
<rect x="1085.00" y="533.00" width="27.00" height="17.00" fill="#c1d4f4"/>
<rect x="1112.00" y="533.00" width="27.00" height="17.00" fill="#c5d6f2"/>
<rect x="1139.00" y="533.00" width="27.00" height="17.00" fill="#97b8ff"/>
<rect x="842.00" y="550.00" width="27.00" height="18.00" fill="#d5dbe5"/>
<rect x="869.00" y="550.00" width="27.00" height="18.00" fill="#d5dbe5"/>
<rect x="896.00" y="550.00" width="27.00" height="18.00" fill="#bed2f6"/>
<rect x="923.00" y="550.00" width="27.00" height="18.00" fill="#dedcdb"/>
<rect x="950.00" y="550.00" width="27.00" height="18.00" fill="#f2cab5"/>
<rect x="977.00" y="550.00" width="27.00" height="18.00" fill="#cfdaea"/>
<rect x="1004.00" y="550.00" width="27.00" height="18.00" fill="#d3dbe7"/>
<rect x="1031.00" y="550.00" width="27.00" height="18.00" fill="#f1ccb8"/>
<rect x="1058.00" y="550.00" width="27.00" height="18.00" fill="#dbdcde"/>
<rect x="1085.00" y="550.00" width="27.00" height="18.00" fill="#7295f4"/>
<rect x="1112.00" y="550.00" width="27.00" height="18.00" fill="#bad0f8"/>
<rect x="1139.00" y="550.00" width="27.00" height="18.00" fill="#82a6fb"/>
<rect x="842.00" y="568.00" width="27.00" height="17.00" fill="#e0dbd8"/>
<rect x="869.00" y="568.00" width="27.00" height="17.00" fill="#e5d8d1"/>
<rect x="896.00" y="568.00" width="27.00" height="17.00" fill="#c5d6f2"/>
<rect x="923.00" y="568.00" width="27.00" height="17.00" fill="#d8dce2"/>
<rect x="950.00" y="568.00" width="27.00" height="17.00" fill="#f7b99e"/>
<rect x="977.00" y="568.00" width="27.00" height="17.00" fill="#ccd9ed"/>
<rect x="1004.00" y="568.00" width="27.00" height="17.00" fill="#c5d6f2"/>
<rect x="1031.00" y="568.00" width="27.00" height="17.00" fill="#f3c7b1"/>
<rect x="1058.00" y="568.00" width="27.00" height="17.00" fill="#dedcdb"/>
<rect x="1085.00" y="568.00" width="27.00" height="17.00" fill="#9bbcff"/>
<rect x="1112.00" y="568.00" width="27.00" height="17.00" fill="#d3dbe7"/>
<rect x="1139.00" y="568.00" width="27.00" height="17.00" fill="#aec9fc"/>
<rect x="842.00" y="585.00" width="27.00" height="18.00" fill="#ead5c9"/>
<rect x="869.00" y="585.00" width="27.00" height="18.00" fill="#d5dbe5"/>
<rect x="896.00" y="585.00" width="27.00" height="18.00" fill="#a2c1ff"/>
<rect x="923.00" y="585.00" width="27.00" height="18.00" fill="#bed2f6"/>
<rect x="950.00" y="585.00" width="27.00" height="18.00" fill="#b2ccfb"/>
<rect x="977.00" y="585.00" width="27.00" height="18.00" fill="#d5dbe5"/>
<rect x="1004.00" y="585.00" width="27.00" height="18.00" fill="#aec9fc"/>
<rect x="1031.00" y="585.00" width="27.00" height="18.00" fill="#f7b99e"/>
<rect x="1058.00" y="585.00" width="27.00" height="18.00" fill="#dbdcde"/>
<rect x="1085.00" y="585.00" width="27.00" height="18.00" fill="#bad0f8"/>
<rect x="1112.00" y="585.00" width="27.00" height="18.00" fill="#e3d9d3"/>
<rect x="1139.00" y="585.00" width="27.00" height="18.00" fill="#aec9fc"/>
<rect x="842.00" y="603.00" width="27.00" height="17.00" fill="#dedcdb"/>
<rect x="869.00" y="603.00" width="27.00" height="17.00" fill="#c1d4f4"/>
<rect x="896.00" y="603.00" width="27.00" height="17.00" fill="#97b8ff"/>
<rect x="923.00" y="603.00" width="27.00" height="17.00" fill="#97b8ff"/>
<rect x="950.00" y="603.00" width="27.00" height="17.00" fill="#d3dbe7"/>
<rect x="977.00" y="603.00" width="27.00" height="17.00" fill="#e3d9d3"/>
<rect x="1004.00" y="603.00" width="27.00" height="17.00" fill="#ecd3c5"/>
<rect x="1031.00" y="603.00" width="27.00" height="17.00" fill="#ecd3c5"/>
<rect x="1058.00" y="603.00" width="27.00" height="17.00" fill="#86a9fc"/>
<rect x="1085.00" y="603.00" width="27.00" height="17.00" fill="#e5d8d1"/>
<rect x="1112.00" y="603.00" width="27.00" height="17.00" fill="#d3dbe7"/>
<rect x="1139.00" y="603.00" width="27.00" height="17.00" fill="#c9d7f0"/>
<rect x="842.00" y="620.00" width="27.00" height="18.00" fill="#f7b093"/>
<rect x="869.00" y="620.00" width="27.00" height="18.00" fill="#f2cab5"/>
<rect x="896.00" y="620.00" width="27.00" height="18.00" fill="#bed2f6"/>
<rect x="923.00" y="620.00" width="27.00" height="18.00" fill="#d5dbe5"/>
<rect x="950.00" y="620.00" width="27.00" height="18.00" fill="#e8d6cc"/>
<rect x="977.00" y="620.00" width="27.00" height="18.00" fill="#dedcdb"/>
<rect x="1004.00" y="620.00" width="27.00" height="18.00" fill="#f7b99e"/>
<rect x="1031.00" y="620.00" width="27.00" height="18.00" fill="#f3c7b1"/>
<rect x="1058.00" y="620.00" width="27.00" height="18.00" fill="#d8dce2"/>
<rect x="1085.00" y="620.00" width="27.00" height="18.00" fill="#ecd3c5"/>
<rect x="1112.00" y="620.00" width="27.00" height="18.00" fill="#dedcdb"/>
<rect x="1139.00" y="620.00" width="27.00" height="18.00" fill="#bed2f6"/>
<rect x="842.00" y="638.00" width="27.00" height="17.00" fill="#e0dbd8"/>
<rect x="869.00" y="638.00" width="27.00" height="17.00" fill="#e5d8d1"/>
<rect x="896.00" y="638.00" width="27.00" height="17.00" fill="#dedcdb"/>
<rect x="923.00" y="638.00" width="27.00" height="17.00" fill="#bad0f8"/>
<rect x="950.00" y="638.00" width="27.00" height="17.00" fill="#e5d8d1"/>
<rect x="977.00" y="638.00" width="27.00" height="17.00" fill="#efcebd"/>
<rect x="1004.00" y="638.00" width="27.00" height="17.00" fill="#f3c7b1"/>
<rect x="1031.00" y="638.00" width="27.00" height="17.00" fill="#f5c0a7"/>
<rect x="1058.00" y="638.00" width="27.00" height="17.00" fill="#bad0f8"/>
<rect x="1085.00" y="638.00" width="27.00" height="17.00" fill="#f7b599"/>
<rect x="1112.00" y="638.00" width="27.00" height="17.00" fill="#dedcdb"/>
<rect x="1139.00" y="638.00" width="27.00" height="17.00" fill="#e0dbd8"/>
<rect x="842.00" y="655.00" width="27.00" height="18.00" fill="#ec7f63"/>
<rect x="869.00" y="655.00" width="27.00" height="18.00" fill="#f5c0a7"/>
<rect x="896.00" y="655.00" width="27.00" height="18.00" fill="#c9d7f0"/>
<rect x="923.00" y="655.00" width="27.00" height="18.00" fill="#f1ccb8"/>
<rect x="950.00" y="655.00" width="27.00" height="18.00" fill="#e46e56"/>
<rect x="977.00" y="655.00" width="27.00" height="18.00" fill="#efcebd"/>
<rect x="1004.00" y="655.00" width="27.00" height="18.00" fill="#f7a889"/>
<rect x="1031.00" y="655.00" width="27.00" height="18.00" fill="#e46e56"/>
<rect x="1058.00" y="655.00" width="27.00" height="18.00" fill="#f6bda2"/>
<rect x="1085.00" y="655.00" width="27.00" height="18.00" fill="#c5d6f2"/>
<rect x="1112.00" y="655.00" width="27.00" height="18.00" fill="#f7b599"/>
<rect x="1139.00" y="655.00" width="27.00" height="18.00" fill="#f3c7b1"/>
<rect x="842.00" y="673.00" width="27.00" height="17.00" fill="#f08a6c"/>
<rect x="869.00" y="673.00" width="27.00" height="17.00" fill="#f2cab5"/>
<rect x="896.00" y="673.00" width="27.00" height="17.00" fill="#c9d7f0"/>
<rect x="923.00" y="673.00" width="27.00" height="17.00" fill="#f1ccb8"/>
<rect x="950.00" y="673.00" width="27.00" height="17.00" fill="#dc5d4a"/>
<rect x="977.00" y="673.00" width="27.00" height="17.00" fill="#f2cab5"/>
<rect x="1004.00" y="673.00" width="27.00" height="17.00" fill="#efcebd"/>
<rect x="1031.00" y="673.00" width="27.00" height="17.00" fill="#f08a6c"/>
<rect x="1058.00" y="673.00" width="27.00" height="17.00" fill="#f5c0a7"/>
<rect x="1085.00" y="673.00" width="27.00" height="17.00" fill="#aac7fd"/>
<rect x="1112.00" y="673.00" width="27.00" height="17.00" fill="#f3c7b1"/>
<rect x="1139.00" y="673.00" width="27.00" height="17.00" fill="#ecd3c5"/>
<rect x="842.00" y="690.00" width="27.00" height="18.00" fill="#ec7f63"/>
<rect x="869.00" y="690.00" width="27.00" height="18.00" fill="#edd1c2"/>
<rect x="896.00" y="690.00" width="27.00" height="18.00" fill="#c9d7f0"/>
<rect x="923.00" y="690.00" width="27.00" height="18.00" fill="#f1ccb8"/>
<rect x="950.00" y="690.00" width="27.00" height="18.00" fill="#e7745b"/>
<rect x="977.00" y="690.00" width="27.00" height="18.00" fill="#f7b093"/>
<rect x="1004.00" y="690.00" width="27.00" height="18.00" fill="#f6bda2"/>
<rect x="1031.00" y="690.00" width="27.00" height="18.00" fill="#f3c7b1"/>
<rect x="1058.00" y="690.00" width="27.00" height="18.00" fill="#f5c0a7"/>
<rect x="1085.00" y="690.00" width="27.00" height="18.00" fill="#c9d7f0"/>
<rect x="1112.00" y="690.00" width="27.00" height="18.00" fill="#f6a385"/>
<rect x="1139.00" y="690.00" width="27.00" height="18.00" fill="#f3c7b1"/>
<rect x="842.00" y="708.00" width="27.00" height="17.00" fill="#dc5d4a"/>
<rect x="869.00" y="708.00" width="27.00" height="17.00" fill="#e0dbd8"/>
<rect x="896.00" y="708.00" width="27.00" height="17.00" fill="#edd1c2"/>
<rect x="923.00" y="708.00" width="27.00" height="17.00" fill="#f3c7b1"/>
<rect x="950.00" y="708.00" width="27.00" height="17.00" fill="#dc5d4a"/>
<rect x="977.00" y="708.00" width="27.00" height="17.00" fill="#f5c4ac"/>
<rect x="1004.00" y="708.00" width="27.00" height="17.00" fill="#f5c0a7"/>
<rect x="1031.00" y="708.00" width="27.00" height="17.00" fill="#e46e56"/>
<rect x="1058.00" y="708.00" width="27.00" height="17.00" fill="#f59f80"/>
<rect x="1085.00" y="708.00" width="27.00" height="17.00" fill="#a2c1ff"/>
<rect x="1112.00" y="708.00" width="27.00" height="17.00" fill="#f08a6c"/>
<rect x="1139.00" y="708.00" width="27.00" height="17.00" fill="#f6bda2"/>
<rect x="842.00" y="725.00" width="27.00" height="17.00" fill="#ee8468"/>
<rect x="869.00" y="725.00" width="27.00" height="17.00" fill="#f7b093"/>
<rect x="896.00" y="725.00" width="27.00" height="17.00" fill="#dedcdb"/>
<rect x="923.00" y="725.00" width="27.00" height="17.00" fill="#edd1c2"/>
<rect x="950.00" y="725.00" width="27.00" height="17.00" fill="#dc5d4a"/>
<rect x="977.00" y="725.00" width="27.00" height="17.00" fill="#f5c4ac"/>
<rect x="1004.00" y="725.00" width="27.00" height="17.00" fill="#f6bda2"/>
<rect x="1031.00" y="725.00" width="27.00" height="17.00" fill="#f7ac8e"/>
<rect x="1058.00" y="725.00" width="27.00" height="17.00" fill="#ee8468"/>
<rect x="1085.00" y="725.00" width="27.00" height="17.00" fill="#a2c1ff"/>
<rect x="1112.00" y="725.00" width="27.00" height="17.00" fill="#e97a5f"/>
<rect x="1139.00" y="725.00" width="27.00" height="17.00" fill="#f7b093"/>
<rect x="842.00" y="742.00" width="27.00" height="18.00" fill="#c12b30"/>
<rect x="869.00" y="742.00" width="27.00" height="18.00" fill="#edd1c2"/>
<rect x="896.00" y="742.00" width="27.00" height="18.00" fill="#bad0f8"/>
<rect x="923.00" y="742.00" width="27.00" height="18.00" fill="#f3c7b1"/>
<rect x="950.00" y="742.00" width="27.00" height="18.00" fill="#dc5d4a"/>
<rect x="977.00" y="742.00" width="27.00" height="18.00" fill="#f7b093"/>
<rect x="1004.00" y="742.00" width="27.00" height="18.00" fill="#f39475"/>
<rect x="1031.00" y="742.00" width="27.00" height="18.00" fill="#d24b40"/>
<rect x="1058.00" y="742.00" width="27.00" height="18.00" fill="#f6bda2"/>
<rect x="1085.00" y="742.00" width="27.00" height="18.00" fill="#82a6fb"/>
<rect x="1112.00" y="742.00" width="27.00" height="18.00" fill="#f5c0a7"/>
<rect x="1139.00" y="742.00" width="27.00" height="18.00" fill="#e5d8d1"/>
<rect x="842.00" y="760.00" width="27.00" height="17.00" fill="#f08a6c"/>
<rect x="869.00" y="760.00" width="27.00" height="17.00" fill="#f3c7b1"/>
<rect x="896.00" y="760.00" width="27.00" height="17.00" fill="#d8dce2"/>
<rect x="923.00" y="760.00" width="27.00" height="17.00" fill="#f3c7b1"/>
<rect x="950.00" y="760.00" width="27.00" height="17.00" fill="#e46e56"/>
<rect x="977.00" y="760.00" width="27.00" height="17.00" fill="#d5dbe5"/>
<rect x="1004.00" y="760.00" width="27.00" height="17.00" fill="#f5c4ac"/>
<rect x="1031.00" y="760.00" width="27.00" height="17.00" fill="#f5c4ac"/>
<rect x="1058.00" y="760.00" width="27.00" height="17.00" fill="#f6a385"/>
<rect x="1085.00" y="760.00" width="27.00" height="17.00" fill="#445acc"/>
<rect x="1112.00" y="760.00" width="27.00" height="17.00" fill="#f5c0a7"/>
<rect x="1139.00" y="760.00" width="27.00" height="17.00" fill="#e5d8d1"/>
<rect x="842.00" y="777.00" width="27.00" height="18.00" fill="#f6a385"/>
<rect x="869.00" y="777.00" width="27.00" height="18.00" fill="#ead5c9"/>
<rect x="896.00" y="777.00" width="27.00" height="18.00" fill="#bed2f6"/>
<rect x="923.00" y="777.00" width="27.00" height="18.00" fill="#ead5c9"/>
<rect x="950.00" y="777.00" width="27.00" height="18.00" fill="#f39475"/>
<rect x="977.00" y="777.00" width="27.00" height="18.00" fill="#f5c4ac"/>
<rect x="1004.00" y="777.00" width="27.00" height="18.00" fill="#f5c4ac"/>
<rect x="1031.00" y="777.00" width="27.00" height="18.00" fill="#f39475"/>
<rect x="1058.00" y="777.00" width="27.00" height="18.00" fill="#f3c7b1"/>
<rect x="1085.00" y="777.00" width="27.00" height="18.00" fill="#82a6fb"/>
<rect x="1112.00" y="777.00" width="27.00" height="18.00" fill="#d5dbe5"/>
<rect x="1139.00" y="777.00" width="27.00" height="18.00" fill="#b2ccfb"/>
<rect x="842.00" y="795.00" width="27.00" height="17.00" fill="#f6bda2"/>
<rect x="869.00" y="795.00" width="27.00" height="17.00" fill="#f39475"/>
<rect x="896.00" y="795.00" width="27.00" height="17.00" fill="#c9d7f0"/>
<rect x="923.00" y="795.00" width="27.00" height="17.00" fill="#e5d8d1"/>
<rect x="950.00" y="795.00" width="27.00" height="17.00" fill="#f39475"/>
<rect x="977.00" y="795.00" width="27.00" height="17.00" fill="#edd1c2"/>
<rect x="1004.00" y="795.00" width="27.00" height="17.00" fill="#c5d6f2"/>
<rect x="1031.00" y="795.00" width="27.00" height="17.00" fill="#f6a385"/>
<rect x="1058.00" y="795.00" width="27.00" height="17.00" fill="#f7b99e"/>
<rect x="1085.00" y="795.00" width="27.00" height="17.00" fill="#d5dbe5"/>
<rect x="1112.00" y="795.00" width="27.00" height="17.00" fill="#f7ac8e"/>
<rect x="1139.00" y="795.00" width="27.00" height="17.00" fill="#f6bda2"/>
<rect x="842.00" y="812.00" width="27.00" height="18.00" fill="#f59f80"/>
<rect x="869.00" y="812.00" width="27.00" height="18.00" fill="#f7ac8e"/>
<rect x="896.00" y="812.00" width="27.00" height="18.00" fill="#cfdaea"/>
<rect x="923.00" y="812.00" width="27.00" height="18.00" fill="#efcebd"/>
<rect x="950.00" y="812.00" width="27.00" height="18.00" fill="#f39475"/>
<rect x="977.00" y="812.00" width="27.00" height="18.00" fill="#f6bda2"/>
<rect x="1004.00" y="812.00" width="27.00" height="18.00" fill="#dbdcde"/>
<rect x="1031.00" y="812.00" width="27.00" height="18.00" fill="#f6bda2"/>
<rect x="1058.00" y="812.00" width="27.00" height="18.00" fill="#efcebd"/>
<rect x="1085.00" y="812.00" width="27.00" height="18.00" fill="#bad0f8"/>
<rect x="1112.00" y="812.00" width="27.00" height="18.00" fill="#ec7f63"/>
<rect x="1139.00" y="812.00" width="27.00" height="18.00" fill="#f6bda2"/>
<rect x="842.00" y="830.00" width="27.00" height="17.00" fill="#f7ac8e"/>
<rect x="869.00" y="830.00" width="27.00" height="17.00" fill="#f7ac8e"/>
<rect x="896.00" y="830.00" width="27.00" height="17.00" fill="#c5d6f2"/>
<rect x="923.00" y="830.00" width="27.00" height="17.00" fill="#f3c7b1"/>
<rect x="950.00" y="830.00" width="27.00" height="17.00" fill="#c12b30"/>
<rect x="977.00" y="830.00" width="27.00" height="17.00" fill="#f7b093"/>
<rect x="1004.00" y="830.00" width="27.00" height="17.00" fill="#e0dbd8"/>
<rect x="1031.00" y="830.00" width="27.00" height="17.00" fill="#f6a385"/>
<rect x="1058.00" y="830.00" width="27.00" height="17.00" fill="#f5c4ac"/>
<rect x="1085.00" y="830.00" width="27.00" height="17.00" fill="#e5d8d1"/>
<rect x="1112.00" y="830.00" width="27.00" height="17.00" fill="#f39475"/>
<rect x="1139.00" y="830.00" width="27.00" height="17.00" fill="#f7b093"/>
<rect x="842.00" y="847.00" width="27.00" height="18.00" fill="#f3c7b1"/>
<rect x="869.00" y="847.00" width="27.00" height="18.00" fill="#ead5c9"/>
<rect x="896.00" y="847.00" width="27.00" height="18.00" fill="#c5d6f2"/>
<rect x="923.00" y="847.00" width="27.00" height="18.00" fill="#efcebd"/>
<rect x="950.00" y="847.00" width="27.00" height="18.00" fill="#f7b093"/>
<rect x="977.00" y="847.00" width="27.00" height="18.00" fill="#d5dbe5"/>
<rect x="1004.00" y="847.00" width="27.00" height="18.00" fill="#f3c7b1"/>
<rect x="1031.00" y="847.00" width="27.00" height="18.00" fill="#f59f80"/>
<rect x="1058.00" y="847.00" width="27.00" height="18.00" fill="#f5c4ac"/>
<rect x="1085.00" y="847.00" width="27.00" height="18.00" fill="#9bbcff"/>
<rect x="1112.00" y="847.00" width="27.00" height="18.00" fill="#f59f80"/>
<rect x="1139.00" y="847.00" width="27.00" height="18.00" fill="#e7745b"/>
<rect x="842.00" y="865.00" width="27.00" height="17.00" fill="#e46e56"/>
<rect x="869.00" y="865.00" width="27.00" height="17.00" fill="#f7ac8e"/>
<rect x="896.00" y="865.00" width="27.00" height="17.00" fill="#e0dbd8"/>
<rect x="923.00" y="865.00" width="27.00" height="17.00" fill="#efcebd"/>
<rect x="950.00" y="865.00" width="27.00" height="17.00" fill="#df634e"/>
<rect x="977.00" y="865.00" width="27.00" height="17.00" fill="#f7ac8e"/>
<rect x="1004.00" y="865.00" width="27.00" height="17.00" fill="#f7ac8e"/>
<rect x="1031.00" y="865.00" width="27.00" height="17.00" fill="#e46e56"/>
<rect x="1058.00" y="865.00" width="27.00" height="17.00" fill="#ec7f63"/>
<rect x="1085.00" y="865.00" width="27.00" height="17.00" fill="#bad0f8"/>
<rect x="1112.00" y="865.00" width="27.00" height="17.00" fill="#df634e"/>
<rect x="1139.00" y="865.00" width="27.00" height="17.00" fill="#e46e56"/>
<rect x="842.00" y="882.00" width="27.00" height="18.00" fill="#e7745b"/>
<rect x="869.00" y="882.00" width="27.00" height="18.00" fill="#f7ac8e"/>
<rect x="896.00" y="882.00" width="27.00" height="18.00" fill="#bed2f6"/>
<rect x="923.00" y="882.00" width="27.00" height="18.00" fill="#edd1c2"/>
<rect x="950.00" y="882.00" width="27.00" height="18.00" fill="#ec7f63"/>
<rect x="977.00" y="882.00" width="27.00" height="18.00" fill="#f7ac8e"/>
<rect x="1004.00" y="882.00" width="27.00" height="18.00" fill="#f4987a"/>
<rect x="1031.00" y="882.00" width="27.00" height="18.00" fill="#ee8468"/>
<rect x="1058.00" y="882.00" width="27.00" height="18.00" fill="#ec7f63"/>
<rect x="1085.00" y="882.00" width="27.00" height="18.00" fill="#d3dbe7"/>
<rect x="1112.00" y="882.00" width="27.00" height="18.00" fill="#e46e56"/>
<rect x="1139.00" y="882.00" width="27.00" height="18.00" fill="#f7ac8e"/>
<rect x="842.00" y="900.00" width="27.00" height="17.00" fill="#df634e"/>
<rect x="869.00" y="900.00" width="27.00" height="17.00" fill="#f6a385"/>
<rect x="896.00" y="900.00" width="27.00" height="17.00" fill="#b6cefa"/>
<rect x="923.00" y="900.00" width="27.00" height="17.00" fill="#edd1c2"/>
<rect x="950.00" y="900.00" width="27.00" height="17.00" fill="#f7ac8e"/>
<rect x="977.00" y="900.00" width="27.00" height="17.00" fill="#f39475"/>
<rect x="1004.00" y="900.00" width="27.00" height="17.00" fill="#f39475"/>
<rect x="1031.00" y="900.00" width="27.00" height="17.00" fill="#df634e"/>
<rect x="1058.00" y="900.00" width="27.00" height="17.00" fill="#ec7f63"/>
<rect x="1085.00" y="900.00" width="27.00" height="17.00" fill="#c5d6f2"/>
<rect x="1112.00" y="900.00" width="27.00" height="17.00" fill="#f7ac8e"/>
<rect x="1139.00" y="900.00" width="27.00" height="17.00" fill="#f6bda2"/>
<rect x="842.00" y="917.00" width="27.00" height="18.00" fill="#ba162b"/>
<rect x="869.00" y="917.00" width="27.00" height="18.00" fill="#f6a385"/>
<rect x="896.00" y="917.00" width="27.00" height="18.00" fill="#dedcdb"/>
<rect x="923.00" y="917.00" width="27.00" height="18.00" fill="#f7b99e"/>
<rect x="950.00" y="917.00" width="27.00" height="18.00" fill="#b40426"/>
<rect x="977.00" y="917.00" width="27.00" height="18.00" fill="#f7b093"/>
<rect x="1004.00" y="917.00" width="27.00" height="18.00" fill="#edd1c2"/>
<rect x="1031.00" y="917.00" width="27.00" height="18.00" fill="#e26952"/>
<rect x="1058.00" y="917.00" width="27.00" height="18.00" fill="#ee8468"/>
<rect x="1085.00" y="917.00" width="27.00" height="18.00" fill="#9bbcff"/>
<rect x="1112.00" y="917.00" width="27.00" height="18.00" fill="#f08a6c"/>
<rect x="1139.00" y="917.00" width="27.00" height="18.00" fill="#e26952"/>
<rect x="842.00" y="935.00" width="27.00" height="17.00" fill="#ee8468"/>
<rect x="869.00" y="935.00" width="27.00" height="17.00" fill="#ec7f63"/>
<rect x="896.00" y="935.00" width="27.00" height="17.00" fill="#f6a385"/>
<rect x="923.00" y="935.00" width="27.00" height="17.00" fill="#f5c4ac"/>
<rect x="950.00" y="935.00" width="27.00" height="17.00" fill="#f39475"/>
<rect x="977.00" y="935.00" width="27.00" height="17.00" fill="#f7b093"/>
<rect x="1004.00" y="935.00" width="27.00" height="17.00" fill="#f7b99e"/>
<rect x="1031.00" y="935.00" width="27.00" height="17.00" fill="#f08a6c"/>
<rect x="1058.00" y="935.00" width="27.00" height="17.00" fill="#f39475"/>
<rect x="1085.00" y="935.00" width="27.00" height="17.00" fill="#d5dbe5"/>
<rect x="1112.00" y="935.00" width="27.00" height="17.00" fill="#d24b40"/>
<rect x="1139.00" y="935.00" width="27.00" height="17.00" fill="#e46e56"/>
<rect x="842.00" y="952.00" width="27.00" height="18.00" fill="#df634e"/>
<rect x="869.00" y="952.00" width="27.00" height="18.00" fill="#e7745b"/>
<rect x="896.00" y="952.00" width="27.00" height="18.00" fill="#edd1c2"/>
<rect x="923.00" y="952.00" width="27.00" height="18.00" fill="#f3c7b1"/>
<rect x="950.00" y="952.00" width="27.00" height="18.00" fill="#c12b30"/>
<rect x="977.00" y="952.00" width="27.00" height="18.00" fill="#f4987a"/>
<rect x="1004.00" y="952.00" width="27.00" height="18.00" fill="#e7745b"/>
<rect x="1031.00" y="952.00" width="27.00" height="18.00" fill="#d24b40"/>
<rect x="1058.00" y="952.00" width="27.00" height="18.00" fill="#ec7f63"/>
<rect x="1085.00" y="952.00" width="27.00" height="18.00" fill="#bed2f6"/>
<rect x="1112.00" y="952.00" width="27.00" height="18.00" fill="#dc5d4a"/>
<rect x="1139.00" y="952.00" width="27.00" height="18.00" fill="#c73635"/>
<rect x="842.00" y="970.00" width="27.00" height="17.00" fill="#e26952"/>
<rect x="869.00" y="970.00" width="27.00" height="17.00" fill="#e46e56"/>
<rect x="896.00" y="970.00" width="27.00" height="17.00" fill="#dbdcde"/>
<rect x="923.00" y="970.00" width="27.00" height="17.00" fill="#f3c7b1"/>
<rect x="950.00" y="970.00" width="27.00" height="17.00" fill="#ba162b"/>
<rect x="977.00" y="970.00" width="27.00" height="17.00" fill="#f39475"/>
<rect x="1004.00" y="970.00" width="27.00" height="17.00" fill="#f7ac8e"/>
<rect x="1031.00" y="970.00" width="27.00" height="17.00" fill="#f18f71"/>
<rect x="1058.00" y="970.00" width="27.00" height="17.00" fill="#f4987a"/>
<rect x="1085.00" y="970.00" width="27.00" height="17.00" fill="#f3c7b1"/>
<rect x="1112.00" y="970.00" width="27.00" height="17.00" fill="#dc5d4a"/>
<rect x="1139.00" y="970.00" width="27.00" height="17.00" fill="#f08a6c"/>
<rect x="842.00" y="987.00" width="27.00" height="18.00" fill="#f39475"/>
<rect x="869.00" y="987.00" width="27.00" height="18.00" fill="#f18f71"/>
<rect x="896.00" y="987.00" width="27.00" height="18.00" fill="#bed2f6"/>
<rect x="923.00" y="987.00" width="27.00" height="18.00" fill="#e5d8d1"/>
<rect x="950.00" y="987.00" width="27.00" height="18.00" fill="#e97a5f"/>
<rect x="977.00" y="987.00" width="27.00" height="18.00" fill="#f6a385"/>
<rect x="1004.00" y="987.00" width="27.00" height="18.00" fill="#f7ac8e"/>
<rect x="1031.00" y="987.00" width="27.00" height="18.00" fill="#ec7f63"/>
<rect x="1058.00" y="987.00" width="27.00" height="18.00" fill="#f7b99e"/>
<rect x="1085.00" y="987.00" width="27.00" height="18.00" fill="#e3d9d3"/>
<rect x="1112.00" y="987.00" width="27.00" height="18.00" fill="#cc403a"/>
<rect x="1139.00" y="987.00" width="27.00" height="18.00" fill="#e46e56"/>
<rect x="842.00" y="1005.00" width="27.00" height="17.00" fill="#f59f80"/>
<rect x="869.00" y="1005.00" width="27.00" height="17.00" fill="#f18f71"/>
<rect x="896.00" y="1005.00" width="27.00" height="17.00" fill="#d5dbe5"/>
<rect x="923.00" y="1005.00" width="27.00" height="17.00" fill="#d3dbe7"/>
<rect x="950.00" y="1005.00" width="27.00" height="17.00" fill="#e26952"/>
<rect x="977.00" y="1005.00" width="27.00" height="17.00" fill="#f59f80"/>
<rect x="1004.00" y="1005.00" width="27.00" height="17.00" fill="#ec7f63"/>
<rect x="1031.00" y="1005.00" width="27.00" height="17.00" fill="#cc403a"/>
<rect x="1058.00" y="1005.00" width="27.00" height="17.00" fill="#f08a6c"/>
<rect x="1085.00" y="1005.00" width="27.00" height="17.00" fill="#f5c4ac"/>
<rect x="1112.00" y="1005.00" width="27.00" height="17.00" fill="#c73635"/>
<rect x="1139.00" y="1005.00" width="27.00" height="17.00" fill="#d24b40"/>
<rect x="842.00" y="1022.00" width="27.00" height="18.00" fill="#e97a5f"/>
<rect x="869.00" y="1022.00" width="27.00" height="18.00" fill="#f6bda2"/>
<rect x="896.00" y="1022.00" width="27.00" height="18.00" fill="#f3c7b1"/>
<rect x="923.00" y="1022.00" width="27.00" height="18.00" fill="#f5c0a7"/>
<rect x="950.00" y="1022.00" width="27.00" height="18.00" fill="#e7745b"/>
<rect x="977.00" y="1022.00" width="27.00" height="18.00" fill="#f7b99e"/>
<rect x="1004.00" y="1022.00" width="27.00" height="18.00" fill="#d75445"/>
<rect x="1031.00" y="1022.00" width="27.00" height="18.00" fill="#ec7f63"/>
<rect x="1058.00" y="1022.00" width="27.00" height="18.00" fill="#f5c0a7"/>
<rect x="1085.00" y="1022.00" width="27.00" height="18.00" fill="#a2c1ff"/>
<rect x="1112.00" y="1022.00" width="27.00" height="18.00" fill="#f4987a"/>
<rect x="1139.00" y="1022.00" width="27.00" height="18.00" fill="#f5c4ac"/>
<rect x="842.00" y="1040.00" width="27.00" height="17.00" fill="#dc5d4a"/>
<rect x="869.00" y="1040.00" width="27.00" height="17.00" fill="#e26952"/>
<rect x="896.00" y="1040.00" width="27.00" height="17.00" fill="#edd1c2"/>
<rect x="923.00" y="1040.00" width="27.00" height="17.00" fill="#f5c4ac"/>
<rect x="950.00" y="1040.00" width="27.00" height="17.00" fill="#f08a6c"/>
<rect x="977.00" y="1040.00" width="27.00" height="17.00" fill="#f08a6c"/>
<rect x="1004.00" y="1040.00" width="27.00" height="17.00" fill="#d24b40"/>
<rect x="1031.00" y="1040.00" width="27.00" height="17.00" fill="#f4987a"/>
<rect x="1058.00" y="1040.00" width="27.00" height="17.00" fill="#f7b99e"/>
<rect x="1085.00" y="1040.00" width="27.00" height="17.00" fill="#e0dbd8"/>
<rect x="1112.00" y="1040.00" width="27.00" height="17.00" fill="#f18f71"/>
<rect x="1139.00" y="1040.00" width="27.00" height="17.00" fill="#ead5c9"/>
</g>
<path d="M855.50 63.00V1056.00M882.50 63.00V1056.00M909.50 63.00V1056.00M936.50 63.00V1056.00M963.50 63.00V1056.00M990.50 63.00V1056.00M1017.50 63.00V1056.00M1044.50 63.00V1056.00M1071.50 63.00V1056.00M1098.50 63.00V1056.00M1124.50 63.00V1056.00M1151.50 63.00V1056.00" stroke="#fff" stroke-width="3.00" fill="none"/>
</g>
<text transform="translate(853.75 1100.00) rotate(-60) translate(-8.67 11.14) scale(0.9488 1)" font-size="32.39">1</text>
<text transform="translate(880.64 1100.00) rotate(-60) translate(-9.07 11.14) scale(0.9641 1)" font-size="32.39">2</text>
<text transform="translate(907.54 1100.00) rotate(-60) translate(-8.59 11.14) scale(0.9583 1)" font-size="32.39">3</text>
<text transform="translate(934.43 1100.00) rotate(-60) translate(-9.00 11.14) scale(0.9948 1)" font-size="32.39">4</text>
<text transform="translate(961.33 1100.00) rotate(-60) translate(-8.57 11.14) scale(0.9384 1)" font-size="32.39">5</text>
<text transform="translate(988.23 1100.00) rotate(-60) translate(-9.24 11.14) scale(1.0250 1)" font-size="32.39">6</text>
<text transform="translate(1015.12 1100.00) rotate(-60) translate(-8.77 11.14) scale(0.9693 1)" font-size="32.39">7</text>
<text transform="translate(1042.02 1100.00) rotate(-60) translate(-9.04 11.14) scale(1.0036 1)" font-size="32.39">8</text>
<text transform="translate(1068.91 1100.00) rotate(-60) translate(-9.39 11.14) scale(1.0250 1)" font-size="32.39">9</text>
<text transform="translate(1095.81 1110.00) rotate(-60) translate(-18.60 11.14) scale(1.0380 1)" font-size="32.39">10</text>
<text transform="translate(1122.70 1110.00) rotate(-60) translate(-18.77 11.14) scale(1.1058 1)" font-size="32.39">11</text>
<text transform="translate(1149.60 1110.00) rotate(-60) translate(-18.56 11.14) scale(1.0200 1)" font-size="32.39">12</text>
<defs><linearGradient id="cb" x1="0" y1="0" x2="0" y2="1"><stop offset="0.0000" stop-color="#b40426"/><stop offset="0.0156" stop-color="#b8122a"/><stop offset="0.0312" stop-color="#be242e"/><stop offset="0.0469" stop-color="#c43032"/><stop offset="0.0625" stop-color="#ca3b37"/><stop offset="0.0781" stop-color="#cf453c"/><stop offset="0.0938" stop-color="#d44e41"/><stop offset="0.1094" stop-color="#d85646"/><stop offset="0.1250" stop-color="#dd5f4b"/><stop offset="0.1406" stop-color="#e16751"/><stop offset="0.1562" stop-color="#e46e56"/><stop offset="0.1719" stop-color="#e8765c"/><stop offset="0.1875" stop-color="#eb7d62"/><stop offset="0.2031" stop-color="#ee8468"/><stop offset="0.2188" stop-color="#f08b6e"/><stop offset="0.2344" stop-color="#f29274"/><stop offset="0.2500" stop-color="#f4987a"/><stop offset="0.2656" stop-color="#f59f80"/><stop offset="0.2812" stop-color="#f6a586"/><stop offset="0.2969" stop-color="#f7aa8c"/><stop offset="0.3125" stop-color="#f7b093"/><stop offset="0.3281" stop-color="#f7b599"/><stop offset="0.3438" stop-color="#f7ba9f"/><stop offset="0.3594" stop-color="#f6bfa6"/><stop offset="0.3750" stop-color="#f5c4ac"/><stop offset="0.3906" stop-color="#f3c8b2"/><stop offset="0.4062" stop-color="#f1ccb8"/><stop offset="0.4219" stop-color="#efcfbf"/><stop offset="0.4375" stop-color="#ecd3c5"/><stop offset="0.4531" stop-color="#e9d5cb"/><stop offset="0.4688" stop-color="#e5d8d1"/><stop offset="0.4844" stop-color="#e1dad6"/><stop offset="0.5000" stop-color="#dddcdc"/><stop offset="0.5156" stop-color="#d9dce1"/><stop offset="0.5312" stop-color="#d5dbe5"/><stop offset="0.5469" stop-color="#d1dae9"/><stop offset="0.5625" stop-color="#ccd9ed"/><stop offset="0.5781" stop-color="#c7d7f0"/><stop offset="0.5938" stop-color="#c3d5f4"/><stop offset="0.6094" stop-color="#bed2f6"/><stop offset="0.6250" stop-color="#b9d0f9"/><stop offset="0.6406" stop-color="#b3cdfb"/><stop offset="0.6562" stop-color="#aec9fc"/><stop offset="0.6719" stop-color="#a9c6fd"/><stop offset="0.6875" stop-color="#a3c2fe"/><stop offset="0.7031" stop-color="#9ebeff"/><stop offset="0.7188" stop-color="#98b9ff"/><stop offset="0.7344" stop-color="#93b5fe"/><stop offset="0.7500" stop-color="#8db0fe"/><stop offset="0.7656" stop-color="#88abfd"/><stop offset="0.7812" stop-color="#82a6fb"/><stop offset="0.7969" stop-color="#7da0f9"/><stop offset="0.8125" stop-color="#779af7"/><stop offset="0.8281" stop-color="#7295f4"/><stop offset="0.8438" stop-color="#6c8ff1"/><stop offset="0.8594" stop-color="#6788ee"/><stop offset="0.8750" stop-color="#6282ea"/><stop offset="0.8906" stop-color="#5d7ce6"/><stop offset="0.9062" stop-color="#5875e1"/><stop offset="0.9219" stop-color="#536edd"/><stop offset="0.9375" stop-color="#4e68d8"/><stop offset="0.9531" stop-color="#4961d2"/><stop offset="0.9688" stop-color="#445acc"/><stop offset="0.9844" stop-color="#3f53c6"/><stop offset="1.0000" stop-color="#3b4cc0"/></linearGradient></defs>
<rect x="1192.00" y="76.00" width="45.00" height="965.80" fill="url(#cb)"/>
<path d="M1239.60 971.00H1254.70" stroke="#262626" stroke-width="3.47"/>
<text transform="translate(1264.24 983.00) scale(1.0380 1)" font-size="32.39" >10</text>
<path d="M1239.60 851.87H1254.70" stroke="#262626" stroke-width="3.47"/>
<text transform="translate(1263.92 863.87) scale(1.0472 1)" font-size="32.39" >20</text>
<path d="M1239.60 732.74H1254.70" stroke="#262626" stroke-width="3.47"/>
<text transform="translate(1264.44 744.74) scale(1.0323 1)" font-size="32.39" >30</text>
<path d="M1239.60 613.61H1254.70" stroke="#262626" stroke-width="3.47"/>
<text transform="translate(1264.09 625.61) scale(1.0422 1)" font-size="32.39" >40</text>
<path d="M1239.60 494.49H1254.70" stroke="#262626" stroke-width="3.47"/>
<text transform="translate(1264.43 506.49) scale(1.0325 1)" font-size="32.39" >50</text>
<path d="M1239.60 375.36H1254.70" stroke="#262626" stroke-width="3.47"/>
<text transform="translate(1263.84 387.36) scale(1.0495 1)" font-size="32.39" >60</text>
<path d="M1239.60 256.23H1254.70" stroke="#262626" stroke-width="3.47"/>
<text transform="translate(1264.24 268.23) scale(1.0380 1)" font-size="32.39" >70</text>
<path d="M1239.60 137.10H1254.70" stroke="#262626" stroke-width="3.47"/>
<text transform="translate(1264.03 149.10) scale(1.0441 1)" font-size="32.39" >80</text>
<text transform="translate(1339.60 562.60) rotate(-90) translate(-29.28 0.00) scale(0.9319 1)" font-size="35.33">GCI</text>
</svg></body></html>
